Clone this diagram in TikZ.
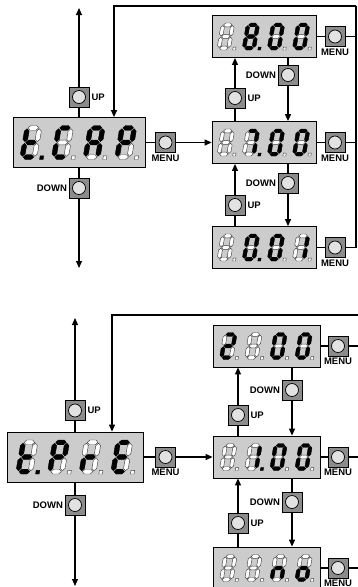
\documentclass[tikz,border=0pt]{standalone}
\usepackage{fontspec}
\setsansfont{Liberation Sans}
\usepackage{tikz}
\usetikzlibrary{arrows.meta,positioning,calc}
\definecolor{lcdGray}{RGB}{204,204,204}
\definecolor{keyGray}{RGB}{140,140,140}
\definecolor{keyFace}{RGB}{226,226,226}

% segment flags a,b,c,d,e,f,g
\newcommand{\defglyph}[2]{\expandafter\def\csname gly#1\endcsname{#2}}
\defglyph{0}{1,1,1,1,1,1,0}
\defglyph{1}{0,1,1,0,0,0,0}
\defglyph{2}{1,1,0,1,1,0,1}
\defglyph{7}{1,1,1,0,0,0,0}
\defglyph{8}{1,1,1,1,1,1,1}
\defglyph{t}{0,0,0,1,1,1,1}
\defglyph{C}{1,0,0,1,1,1,0}
\defglyph{A}{1,1,1,0,1,1,1}
\defglyph{P}{1,1,0,0,1,1,1}
\defglyph{r}{0,0,0,0,1,0,1}
\defglyph{E}{1,0,0,1,1,1,1}
\defglyph{n}{0,0,1,0,1,0,1}
\defglyph{o}{0,0,1,1,1,0,1}
\defglyph{x}{0,0,0,0,0,0,0}

\tikzset{
  segon/.style={fill=black,draw=black,line width=0.4pt},
  segoff/.style={fill=white,draw=black!75,line width=0.45pt},
  lcd/.style={draw,line width=0.8pt,fill=lcdGray,inner sep=0pt},
  key/.style={draw,line width=0.8pt,fill=keyGray,minimum size=20pt,inner sep=0pt,
    path picture={\draw[fill=keyFace,line width=0.7pt] (path picture bounding box.center) circle (6.5pt);}},
  keylbl/.style={font=\sffamily\bfseries\fontsize{9.5}{10}\selectfont,inner sep=0.5pt},
  wire/.style={line width=1.1pt},
  flow/.style={line width=1.1pt,-{Triangle[length=7pt,width=6pt]}}
}

% one digit: origin, scale, glyph, point
\newcommand{\segdigit}[4]{%
  \begin{scope}[shift={#1},x=#2pt,y=#2pt,xslant=0.17]
    \edef\segflags{\csname gly#3\endcsname}%
    \foreach \f [count=\i] in \segflags {%
      \ifnum\f=1 \tikzset{segcur/.style={segon}}\else\tikzset{segcur/.style={segoff}}\fi
      \ifcase\i\or
        \path[segcur] (1.9,18.6) -- (3.3,20) -- (6.7,20) -- (8.1,18.6) -- (6.7,17.2) -- (3.3,17.2) -- cycle;% a
      \or
        \path[segcur] (8.6,10.5) -- (10,11.9) -- (10,16.7) -- (8.6,18.1) -- (7.2,16.7) -- (7.2,11.9) -- cycle;% b
      \or
        \path[segcur] (8.6,1.9) -- (10,3.3) -- (10,8.1) -- (8.6,9.5) -- (7.2,8.1) -- (7.2,3.3) -- cycle;% c
      \or
        \path[segcur] (1.9,1.4) -- (3.3,2.8) -- (6.7,2.8) -- (8.1,1.4) -- (6.7,0) -- (3.3,0) -- cycle;% d
      \or
        \path[segcur] (1.4,1.9) -- (2.8,3.3) -- (2.8,8.1) -- (1.4,9.5) -- (0,8.1) -- (0,3.3) -- cycle;% e
      \or
        \path[segcur] (1.4,10.5) -- (2.8,11.9) -- (2.8,16.7) -- (1.4,18.1) -- (0,16.7) -- (0,11.9) -- cycle;% f
      \or
        \path[segcur] (1.9,10) -- (3.3,11.4) -- (6.7,11.4) -- (8.1,10) -- (6.7,8.6) -- (3.3,8.6) -- cycle;% g
      \fi
    }
    \ifnum#4=1 \path[segon] (11.8,0) rectangle (13.9,2.1);\else\path[segoff] (11.8,0) rectangle (13.9,2.1);\fi
  \end{scope}}

% four digits centred on a display node
\newcommand{\segdisplay}[3]{%
  \foreach \gl/\dflag [count=\k from 0] in {#3}
    {\segdigit{($(#1)+({(\k*18.6-35)*#2},{10*#2})$)}{#2}{\gl}{\dflag}}}

\begin{document}
\begin{tikzpicture}[x=1pt,y=-1pt]
  \useasboundingbox (0,0) rectangle (358,587);
  \clip (0,0) rectangle (358,587);

  % ---- upper menu ----
  \node[lcd,minimum width=132pt,minimum height=50pt] (capA) at (79,142.5) {};
  \node[key] (upA0) at (79,97) {};
  \node[key] (downA0) at (79,188) {};
  \node[key] (menuA0) at (165.5,142.5) {};
  \coordinate (endUpA) at (79,8);
  \coordinate (endDownA) at (79,268);
  \coordinate (cornerA) at (114,6);
  \coordinate (railA) at (356,6);
  \foreach \n/\y in {1/36.5,2/142.5,3/247.5} {
    \node[lcd,minimum width=104pt,minimum height=42pt] (selA\n) at (264,\y) {};
    \node[key] (menuA\n) at (335,\y) {};
    \node[keylbl,below=1pt of menuA\n] {MENU};
    \draw[wire] (selA\n) -- (menuA\n) -- (menuA\n -| railA);
  }
  \node[key] (downA1) at (288,75) {};
  \node[key] (upA1) at (235,98) {};
  \node[key] (downA2) at (288,183) {};
  \node[key] (upA2) at (235,205) {};
  % left column
  \draw[wire] (capA) -- (upA0);
  \draw[flow] (upA0) -- (endUpA);
  \draw[wire] (capA) -- (downA0);
  \draw[flow] (downA0) -- (endDownA);
  \draw[wire] (capA) -- (menuA0);
  \draw[flow] (menuA0) -- (selA2);
  % return rail
  \draw[wire] (railA |- menuA3) -- (railA);
  \draw[flow] (railA) -- (cornerA) -- (cornerA |- capA.north);
  % up / down
  \draw[wire] (selA1.south -| downA1) -- (downA1);
  \draw[flow] (downA1) -- (downA1 |- selA2.north);
  \draw[wire] (selA2.north -| upA1) -- (upA1);
  \draw[flow] (upA1) -- (upA1 |- selA1.south);
  \draw[wire] (selA2.south -| downA2) -- (downA2);
  \draw[flow] (downA2) -- (downA2 |- selA3.north);
  \draw[wire] (selA3.north -| upA2) -- (upA2);
  \draw[flow] (upA2) -- (upA2 |- selA2.south);
  \node[keylbl,right=1.5pt of upA0] {UP};
  \node[keylbl,left=1pt of downA0] {DOWN};
  \node[keylbl,below=1pt of menuA0] {MENU};
  \foreach \b in {upA1,upA2} \node[keylbl,right=1.5pt of \b] {UP};
  \foreach \b in {downA1,downA2} \node[keylbl,left=1pt of \b] {DOWN};
  % digits
  \segdisplay{capA}{1.7}{t/1,C/0,A/0,P/0}
  \segdisplay{selA1}{1.35}{x/0,8/1,0/0,0/0}
  \segdisplay{selA2}{1.35}{x/0,7/1,0/0,0/0}
  \segdisplay{selA3}{1.35}{x/0,0/1,0/0,1/0}

  % ---- lower menu ----
  \node[lcd,minimum width=136pt,minimum height=50pt] (capB) at (75,457) {};
  \node[key] (upB0) at (75,410.5) {};
  \node[key] (downB0) at (75,505) {};
  \node[key] (menuB0) at (165.5,457) {};
  \coordinate (endUpB) at (75,318);
  \coordinate (endDownB) at (75,586);
  \coordinate (cornerB) at (112,315);
  \coordinate (railB) at (362,315);
  \foreach \n/\y in {1/346,2/457,3/568} {
    \node[lcd,minimum width=107pt,minimum height=42pt] (selB\n) at (266.5,\y) {};
    \node[key] (menuB\n) at (338,\y) {};
    \node[keylbl,below=1pt of menuB\n] {MENU};
    \draw[wire] (selB\n) -- (menuB\n) -- (menuB\n -| railB);
  }
  \node[key] (downB1) at (292,390) {};
  \node[key] (upB1) at (238,415) {};
  \node[key] (downB2) at (292,502) {};
  \node[key] (upB2) at (238,523) {};
  % left column
  \draw[wire] (capB) -- (upB0);
  \draw[flow] (upB0) -- (endUpB);
  \draw[wire] (capB) -- (downB0);
  \draw[flow] (downB0) -- (endDownB);
  \draw[wire] (capB) -- (menuB0);
  \draw[flow] (menuB0) -- (selB2);
  % return rail
  \draw[wire] (railB |- menuB3) -- (railB);
  \draw[flow] (railB) -- (cornerB) -- (cornerB |- capB.north);
  % up / down
  \draw[wire] (selB1.south -| downB1) -- (downB1);
  \draw[flow] (downB1) -- (downB1 |- selB2.north);
  \draw[wire] (selB2.north -| upB1) -- (upB1);
  \draw[flow] (upB1) -- (upB1 |- selB1.south);
  \draw[wire] (selB2.south -| downB2) -- (downB2);
  \draw[flow] (downB2) -- (downB2 |- selB3.north);
  \draw[wire] (selB3.north -| upB2) -- (upB2);
  \draw[flow] (upB2) -- (upB2 |- selB2.south);
  \node[keylbl,right=1.5pt of upB0] {UP};
  \node[keylbl,left=1pt of downB0] {DOWN};
  \node[keylbl,below=1pt of menuB0] {MENU};
  \foreach \b in {upB1,upB2} \node[keylbl,right=1.5pt of \b] {UP};
  \foreach \b in {downB1,downB2} \node[keylbl,left=1pt of \b] {DOWN};
  % digits
  \segdisplay{capB}{1.7}{t/1,P/0,r/0,E/0}
  \segdisplay{selB1}{1.35}{2/0,x/0,0/0,0/0}
  \segdisplay{selB2}{1.35}{x/0,1/1,0/0,0/0}
  \segdisplay{selB3}{1.35}{x/0,x/0,n/0,o/0}
\end{tikzpicture}
\end{document}
